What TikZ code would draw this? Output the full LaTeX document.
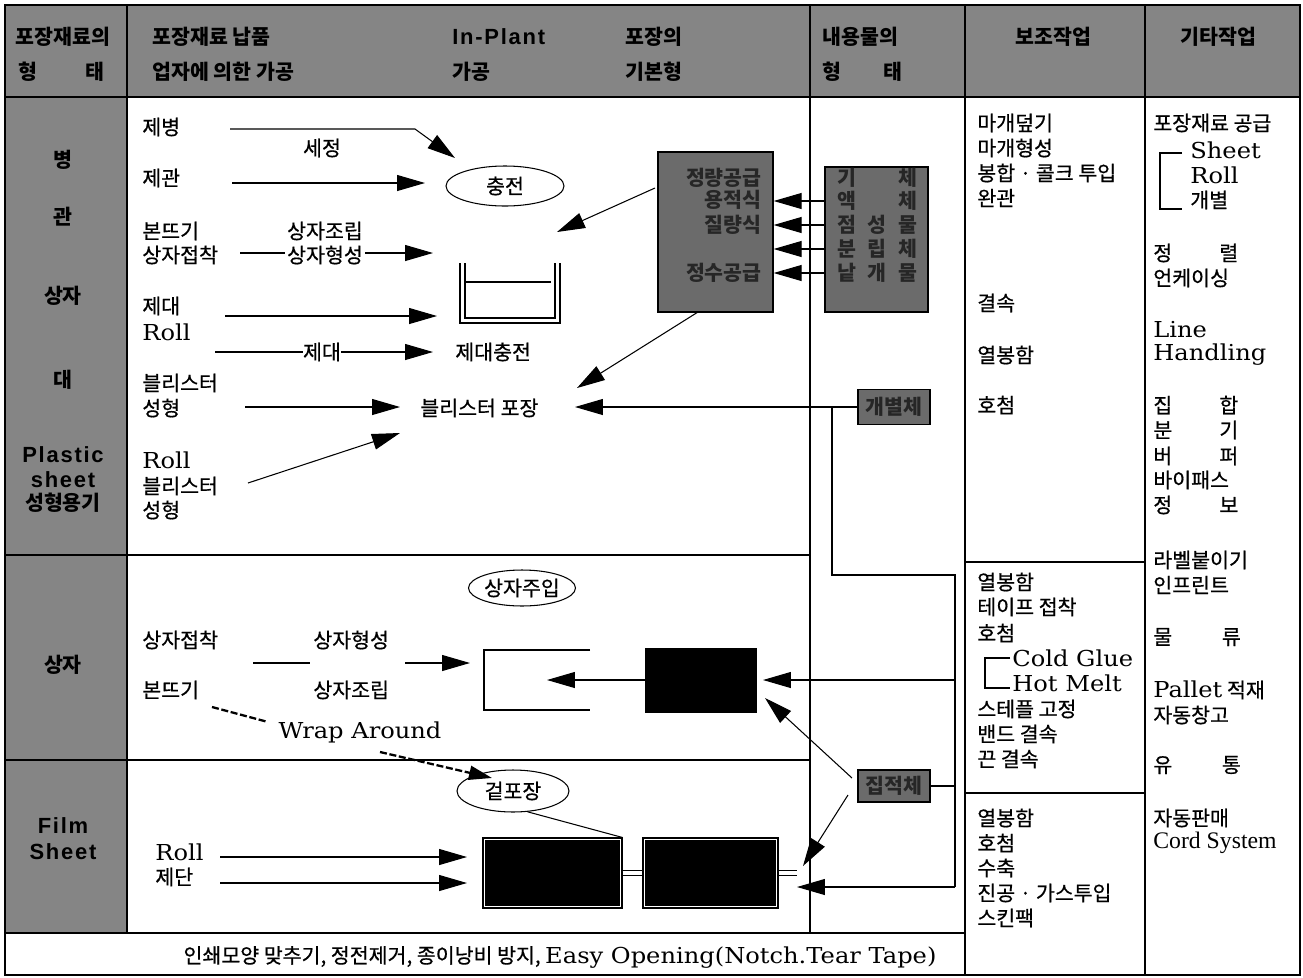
\documentclass[tikz,border=0pt]{standalone}
\usepackage{fontspec}
\setmainfont{Noto Sans CJK KR}[UprightFeatures={FakeBold=0.6}]
\newfontfamily\lat{DejaVu Serif}[FakeStretch=1.1]
\newfontfamily\tms{Liberation Serif}
\newfontfamily\hsb{Liberation Sans}[LetterSpace=8]
\usetikzlibrary{arrows.meta,shapes.geometric}
\newcommand\ks{\fontsize{11.7}{14}\selectfont}
\newcommand\LT[1]{{\lat\fontsize{12.5}{14}\selectfont #1}}
\newcommand\HS[1]{{\hsb\bfseries\fontsize{12.5}{14}\selectfont #1}}
\newcommand\spr[2]{\hbox to #1{#2}}
\tikzset{
  tx/.style={anchor=west,inner sep=0pt,font=\ks},
  tc/.style={anchor=center,inner sep=0pt,font=\ks},
  hd/.style={anchor=west,inner sep=0pt,font=\ks\bfseries},
  hc/.style={anchor=center,inner sep=0pt,font=\ks\bfseries},
  ln/.style={line width=0.6pt},
  arr/.style={line width=0.6pt,-{Triangle[length=0.56cm,width=0.32cm]}},
  dsh/.style={line width=1.3pt,dash pattern=on 4pt off 1.5pt},
  grid/.style={line width=1pt},
  darkbox/.style={draw=black,fill=black!58,line width=0.8pt,inner sep=0pt},
  boxtxt/.style={inner sep=0pt,font=\ks\bfseries,text=black!85},
  oval/.style={draw,ellipse,line width=0.6pt,inner sep=0pt,font=\ks},
}
\begin{document}
\begin{tikzpicture}[x=0.02cm,y=-0.02cm]
\useasboundingbox (0,0) rectangle (1303,978);
% backgrounds
\fill[black!48] (5,5) rectangle (1300,97);
\fill[black!48] (5,97) rectangle (127,933);
% grid
\draw[grid] (5,5) rectangle (1300,975);
\draw[grid] (5,97) -- (1300,97);
\draw[grid] (127,5) -- (127,933);
\draw[grid] (810,5) -- (810,933);
\draw[grid] (965,5) -- (965,975);
\draw[grid] (1145,5) -- (1145,975);
\draw[grid] (5,555) -- (810,555);
\draw[grid] (5,760) -- (810,760);
\draw[grid] (5,933) -- (965,933);
\draw[grid] (965,562) -- (1145,562);
\draw[grid] (965,793) -- (1145,793);
% header
\node[hc] (h1a) at (63,37) {포장재료의};
\node[hc] (h1b) at (28,72) {형};
\node[hc] (h1c) at (95,72) {태};
\node[hd] (h2a) at (152,37) {포장재료 납품};
\node[hd] (h2b) at (152,72) {업자에 의한 가공};
\node[hd] (h3a) at (452,37) {\HS{In-Plant}};
\node[hd] (h3b) at (452,72) {가공};
\node[hd] (h4a) at (625,37) {포장의};
\node[hd] (h4b) at (625,72) {기본형};
\node[hd] (h5a) at (822,37) {내용물의};
\node[hc] (h5b) at (832,72) {형};
\node[hc] (h5c) at (893,72) {태};
\node[hd] (h6) at (1015,37) {보조작업};
\node[hd] (h7) at (1180,37) {기타작업};
% left column
\node[hc] (l1) at (63,160) {병};
\node[hc] (l2) at (63,217) {관};
\node[hc] (l3) at (63,296) {상자};
\node[hc] (l4) at (63,380) {대};
\node[hc] (l5) at (63,455) {\HS{Plastic}};
\node[hc] (l6) at (63,480) {\HS{sheet}};
\node[hc] (l7) at (63,503) {성형용기};
\node[hc] (l8) at (63,665) {상자};
\node[hc] (l9) at (63,826) {\HS{Film}};
\node[hc] (l10) at (63,852) {\HS{Sheet}};
% row 1 texts
\node[tx] (t1) at (142,127) {제병};
\node[tc] (t1b) at (322,148) {세정};
\node[tx] (t2) at (142,178) {제관};
\node[tx] (t3) at (142,231) {본뜨기};
\node[tx] (t4) at (142,255) {상자접착};
\node[tc] (t3b) at (325,231) {상자조립};
\node[tc] (t4b) at (325,255) {상자형성};
\node[tx] (t5) at (142,306) {제대};
\node[tx] (t6) at (142,332) {\LT{Roll}};
\node[tc] (t7) at (322,352) {제대};
\node[tx] (t8) at (455,352) {제대충전};
\node[tx] (t9) at (142,383) {블리스터};
\node[tx] (t10) at (142,408) {성형};
\node[tx] (bp) at (420,408) {블리스터 포장};
\node[tx] (t11) at (142,460) {\LT{Roll}};
\node[tx] (t12) at (142,486) {블리스터};
\node[tx] (t13) at (142,510) {성형};
\node[oval,minimum width=2.36cm,minimum height=0.8cm] (chung) at (505,186) {충전};
% container
\draw[ln] (460,263) -- (460,323) -- (560,323) -- (560,263);
\draw[ln] (465,263) -- (465,318) -- (555,318) -- (555,263);
\draw[ln] (465,282) -- (551,282);
% row 1 arrows
\coordinate (a1s) at (230,129); \coordinate (a1m) at (415,129); \coordinate (a1e) at (455,158);
\draw[arr] (a1s) -- (a1m) -- (a1e);
\coordinate (a2s) at (232,183); \coordinate (a2e) at (425,183);
\draw[arr] (a2s) -- (a2e);
\coordinate (a3s) at (240,253); \coordinate (a3m) at (285,253); \coordinate (a3n) at (365,253); \coordinate (a3e) at (433,253);
\draw[ln] (a3s) -- (a3m); \draw[arr] (a3n) -- (a3e);
\coordinate (a4s) at (225,316); \coordinate (a4e) at (437,316);
\draw[arr] (a4s) -- (a4e);
\coordinate (a5s) at (215,352); \draw[ln] (a5s) -- (t7.west);
\coordinate (a5e) at (433,352); \draw[arr] (t7.east) -- (a5e);
\coordinate (a6s) at (245,407); \coordinate (a6e) at (400,407);
\draw[arr] (a6s) -- (a6e);
\coordinate (a7s) at (248,483); \coordinate (a7e) at (400,433);
\draw[arr] (a7s) -- (a7e);
% quantity box
\node[darkbox,minimum width=2.3cm,minimum height=3.2cm] (qb) at (715.5,232) {};
\node[boxtxt,anchor=east] (q1) at (762,178) {정량공급};
\node[boxtxt,anchor=east] (q2) at (762,200) {용적식};
\node[boxtxt,anchor=east] (q3) at (762,225) {질량식};
\node[boxtxt,anchor=east] (q4) at (762,273) {정수공급};
\coordinate (qa1s) at (655,188); \coordinate (qa1e) at (557,232);
\draw[arr] (qa1s) -- (qa1e);
\coordinate (qa2s) at (698,312); \coordinate (qa2e) at (577,388);
\draw[arr] (qa2s) -- (qa2e);
% contents box
\node[darkbox,minimum width=2.06cm,minimum height=2.9cm] (cb) at (876.5,239.5) {};
\node[boxtxt] (r1) at (877,178) {\spr{1.6cm}{기\hfill 체}};
\node[boxtxt] (r2) at (877,201) {\spr{1.6cm}{액\hfill 체}};
\node[boxtxt] (r3) at (877,225) {\spr{1.6cm}{점\hfill 성\hfill 물}};
\node[boxtxt] (r4) at (877,249) {\spr{1.6cm}{분\hfill 립\hfill 체}};
\node[boxtxt] (r5) at (877,273) {\spr{1.6cm}{낱\hfill 개\hfill 물}};
\draw[arr] (cb.west |- r2) -- (qb.east |- r2);
\draw[arr] (cb.west |- r3) -- (qb.east |- r3);
\draw[arr] (cb.west |- r4) -- (qb.east |- r4);
\draw[arr] (cb.west |- r5) -- (qb.east |- r5);
% individual / aggregate
\node[darkbox,minimum width=1.44cm,minimum height=0.7cm,font=\ks\bfseries,text=black!85] (gb) at (894,407) {개별체};
\node[darkbox,minimum width=1.44cm,minimum height=0.64cm,font=\ks\bfseries,text=black!85] (jb) at (894,786) {집적체};
\coordinate (ge) at (575,407);
\draw[arr] (gb.west) -- (ge);
\coordinate (j1) at (832,407); \coordinate (j2) at (832,575); \coordinate (j3) at (955,575);
\coordinate (j4) at (955,887); \coordinate (j5) at (955,680); \coordinate (j6) at (955,786);
\draw[ln] (j1) -- (j2) -- (j3) -- (j4);
\draw[ln] (jb.east) -- (j6);
% row 2
\node[oval,minimum width=1.84cm,minimum height=0.72cm] (sj) at (522,588) {상자주입};
\node[tx] (s1) at (142,640) {상자접착};
\node[tx] (s2) at (313,640) {상자형성};
\node[tx] (s3) at (142,690) {본뜨기};
\node[tx] (s4) at (313,690) {상자조립};
\coordinate (b1s) at (253,663); \coordinate (b1m) at (310,663);
\coordinate (b1n) at (405,663); \coordinate (b1e) at (470,663);
\draw[ln] (b1s) -- (b1m); \draw[arr] (b1n) -- (b1e);
\draw[ln] (590,650) -- (484,650) -- (484,710) -- (590,710);
\node[fill=black,minimum width=2.24cm,minimum height=1.3cm,inner sep=0pt] (bsq) at (701,680) {};
\coordinate (bsqe) at (547,680);
\draw[arr] (bsq.west) -- (bsqe);
\coordinate (j5e) at (763,680);
\draw[arr] (j5) -- (j5e);
\coordinate (jbs1) at (852,778); \coordinate (jbe1) at (765,698);
\draw[arr] (jbs1) -- (jbe1);
\node[tc,font=\ks] (wa) at (360,732) {\LT{Wrap Around}};
\coordinate (w1s) at (212,707); \coordinate (w1e) at (268,722);
\draw[dsh] (w1s) -- (w1e);
\coordinate (w2s) at (380,752); \coordinate (w2e) at (492,778);
\draw[dsh,-{Triangle[length=0.46cm,width=0.28cm]}] (w2s) -- (w2e);
% row 3
\node[oval,minimum width=2.24cm,minimum height=0.84cm] (gp) at (513,791) {겉포장};
\node[draw,ln,minimum width=2.78cm,minimum height=1.4cm,inner sep=0pt] (f1) at (552.5,873) {};
\fill ([shift={(3,3)}]f1.north west) rectangle ([shift={(-3,-3)}]f1.south east);
\node[draw,ln,minimum width=2.7cm,minimum height=1.4cm,inner sep=0pt] (f2) at (710.5,873) {};
\fill ([shift={(3,3)}]f2.north west) rectangle ([shift={(-3,-3)}]f2.south east);
\draw[ln,double,double distance=2.4pt] (f1.east) -- (f2.west);
\coordinate (f2r) at (797,873);
\draw[ln,double,double distance=2.4pt] (f2.east) -- (f2r);
\draw[ln] (gp.-55) -- (f1.north east);
\node[tx] (fr) at (155,852) {\LT{Roll}};
\node[tx] (fc) at (155,877) {제단};
\coordinate (c1s) at (220,857); \coordinate (c1e) at (467,857);
\coordinate (c2s) at (220,883); \coordinate (c2e) at (467,883);
\draw[arr] (c1s) -- (c1e);
\draw[arr] (c2s) -- (c2e);
\coordinate (jbs2) at (848,795); \coordinate (jbe2) at (803,866);
\draw[arr] (jbs2) -- (jbe2);
\coordinate (j4e) at (797,887);
\draw[arr] (j4) -- (j4e);
% bottom note
\node[tc] (note) at (560,957) {인쇄모양 맞추기, 정전제거, 종이낭비 방지, \LT{Easy Opening(Notch.Tear Tape)}};
% auxiliary column
\node[tx] (x1) at (977,123) {마개덮기};
\node[tx] (x2) at (977,148) {마개형성};
\node[tx] (x3) at (977,173) {봉합 · 콜크 투입};
\node[tx] (x4) at (977,198) {완관};
\node[tx] (x5) at (977,303) {결속};
\node[tx] (x6) at (977,355) {열봉함};
\node[tx] (x7) at (977,405) {호첨};
\node[tx] (y1) at (977,582) {열봉함};
\node[tx] (y2) at (977,607) {테이프 접착};
\node[tx] (y3) at (977,633) {호첨};
\node[tx] (y4) at (1012,658) {\LT{Cold Glue}};
\node[tx] (y5) at (1012,683) {\LT{Hot Melt}};
\draw[ln] (1010,658) -- (985,658) -- (985,688) -- (1010,688);
\node[tx] (y6) at (977,709) {스테플 고정};
\node[tx] (y7) at (977,734) {밴드 결속};
\node[tx] (y8) at (977,759) {끈 결속};
\node[tx] (z1) at (977,818) {열봉함};
\node[tx] (z2) at (977,843) {호첨};
\node[tx] (z3) at (977,868) {수축};
\node[tx] (z4) at (977,893) {진공 · 가스투입};
\node[tx] (z5) at (977,918) {스킨팩};
% other column
\node[tx] (o1) at (1153,123) {포장재료 공급};
\node[tx] (o2) at (1190,150) {\LT{Sheet}};
\node[tx] (o3) at (1190,175) {\LT{Roll}};
\node[tx] (o4) at (1190,200) {개별};
\draw[ln] (1182,153) -- (1160,153) -- (1160,209) -- (1182,209);
\node[tx] (o5) at (1153,253) {\spr{1.7cm}{정\hfill 렬}};
\node[tx] (o6) at (1153,278) {언케이싱};
\node[tx] (o7) at (1153,330) {\LT{Line}};
\node[tx] (o8) at (1153,355) {\LT{Handling}};
\node[tx] (o9) at (1153,405) {\spr{1.7cm}{집\hfill 합}};
\node[tx] (o10) at (1153,430) {\spr{1.7cm}{분\hfill 기}};
\node[tx] (o11) at (1153,456) {\spr{1.7cm}{버\hfill 퍼}};
\node[tx] (o12) at (1153,480) {바이패스};
\node[tx] (o13) at (1153,505) {\spr{1.7cm}{정\hfill 보}};
\node[tx] (o14) at (1153,560) {라벨붙이기};
\node[tx] (o15) at (1153,585) {인프린트};
\node[tx] (o16) at (1153,637) {\spr{1.75cm}{물\hfill 류}};
\node[tx] (o17) at (1153,690) {\LT{Pallet} 적재};
\node[tx] (o18) at (1153,715) {자동창고};
\node[tx] (o19) at (1153,765) {\spr{1.75cm}{유\hfill 통}};
\node[tx] (o20) at (1153,818) {자동판매};
\node[tx] (o21) at (1153,843) {{\tms\fontsize{13.5}{14}\selectfont Cord System}};
\end{tikzpicture}
\end{document}
